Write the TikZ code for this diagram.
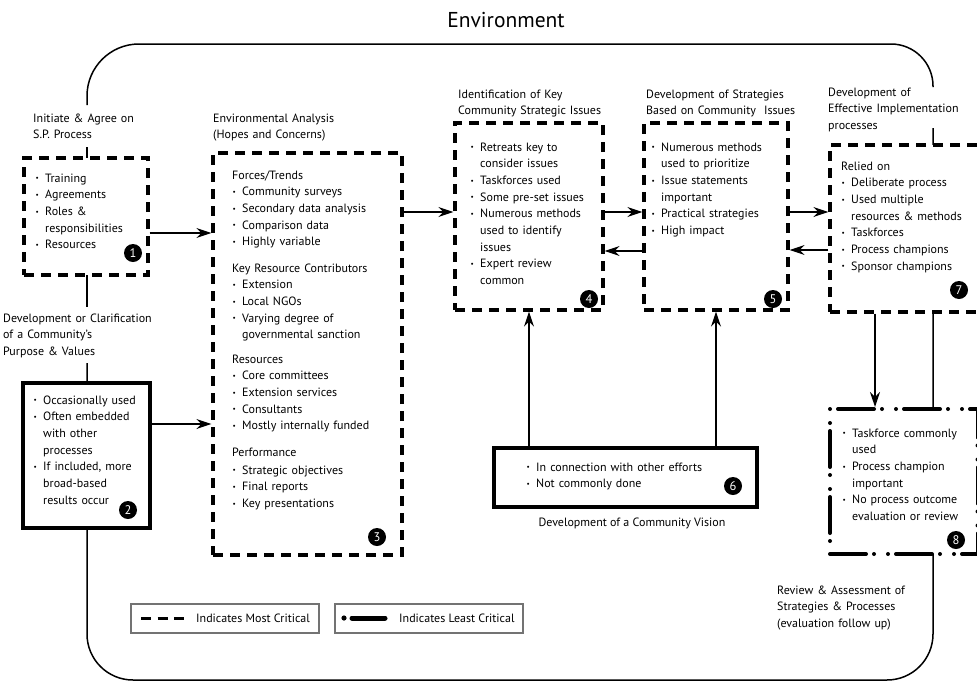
\documentclass[tikz,border=0pt]{standalone}
\usepackage{fontspec}
\usepackage{graphicx}
\setmainfont{PT Sans}
\usetikzlibrary{arrows.meta}
\newcommand{\fs}{\fontsize{12}{16.7}\selectfont}
\newcommand{\bu}{\makebox[10pt][l]{\hspace{0.3pt}\raisebox{1.3pt}{\scalebox{0.6}{•}}}}
\newcommand{\itm}[1]{\noindent\hangindent=10pt\hangafter=1\bu#1\par}
\newcommand{\hd}[1]{\noindent#1\par}
\tikzset{
  x=1pt, y=-1pt,
  txt/.style={anchor=base west, inner sep=0pt, align=left, text width=#1, font=\fs},
  critbox/.style={draw, line width=3.2pt, dash pattern=on 10pt off 7pt, fill=white, inner sep=0pt},
  solidbox/.style={draw, line width=3.5pt, fill=white, inner sep=0pt},
  leastbox/.style={draw, line width=4pt, line cap=round, dash pattern=on 36pt off 8pt on 0pt off 14pt on 0pt off 8pt, fill=white, inner sep=0pt},
  badge/.style={circle, fill=black, text=white, inner sep=0pt, minimum size=18pt, font=\fontsize{12.5}{12.5}\selectfont},
  arr/.style={line width=1.5pt, -{Stealth[length=15pt,width=10pt,inset=5pt]}},
  frame/.style={line width=1.5pt},
  legbox/.style={draw=black!55, line width=1.1pt, inner sep=0pt},
}
\begin{document}
\begin{tikzpicture}
\useasboundingbox (0,0) rectangle (977,683);
\clip (0,0) rectangle (977,683);

% environment frame (broken by labels)
\draw[frame] (87,105) [rounded corners=52pt]-- (87,44) [rounded corners=42pt]-- (933,44) -- (933,87);
\draw[frame] (933,128) [rounded corners=46pt]-- (933,680) -- (87,680) -- (87,363);
\draw[frame] (87,147) -- (87,307);

\node[font=\fontsize{21.5}{24}\selectfont] (title) at (506,20) {Environment};

% boxes
\node[critbox, minimum width=124pt, minimum height=117pt] (b1) at (86,216.5) {};
\node[solidbox, minimum width=127pt, minimum height=145pt] (b2) at (86.5,455.5) {};
\node[critbox, minimum width=189pt, minimum height=402pt] (b3) at (307.5,354) {};
\node[critbox, minimum width=148pt, minimum height=187pt] (b4) at (529,216.5) {};
\node[critbox, minimum width=144pt, minimum height=187pt] (b5) at (716,216.5) {};
\node[solidbox, minimum width=263pt, minimum height=59pt] (b6) at (625.5,477.5) {};
\node[critbox, minimum width=160pt, minimum height=167pt] (b7) at (910,228.5) {};
\node[leastbox, minimum width=147.5pt, minimum height=145pt] (b8) at (903.75,481.5) {};

% labels
\node[txt=140pt] (l1) at (33,122) {Initiate \& Agree on\\S.P. Process};
\node[txt=180pt] (l2) at (3,322) {Development or Clarification\\of a Community's\\Purpose \& Values};
\node[txt=180pt] (l3) at (213,122) {Environmental Analysis\\(Hopes and Concerns)};
\node[txt=180pt] (l4) at (458,98) {Identification of Key\\Community Strategic Issues};
\node[txt=180pt] (l5) at (646,98) {Development of Strategies\\Based on Community\ \ Issues};
\node[txt=150pt] (l7) at (828,96) {Development of\\Effective Implementation\\processes};
\node[anchor=base, inner sep=0pt, font=\fs] (l6) at (632,526) {Development of a Community Vision};
\node[txt=180pt] (l8) at (777,594) {Review \& Assessment of\\Strategies \& Processes\\(evaluation follow up)};

% box texts
\node[txt=110pt] (t1) at (35,182) {\itm{Training}\itm{Agreements}\itm{Roles \&\newline responsibilities}\itm{Resources}};
\node[txt=115pt] (t2) at (33,404) {\itm{Occasionally used}\itm{Often embedded\newline with other\newline processes}\itm{If included, more\newline broad-based\newline results occur}};
\node[txt=165pt] (t3a) at (232,179) {\hd{Forces/Trends}\itm{Community surveys}\itm{Secondary data analysis}\itm{Comparison data}\itm{Highly variable}};
\node[txt=165pt] (t3b) at (232,272) {\hd{Key Resource Contributors}\itm{Extension}\itm{Local NGOs}\itm{Varying degree of\newline governmental sanction}};
\node[txt=165pt] (t3c) at (232,363) {\hd{Resources}\itm{Core committees}\itm{Extension services}\itm{Consultants}\itm{Mostly internally funded}};
\node[txt=165pt] (t3d) at (232,456) {\hd{Performance}\vspace{1.5pt}\itm{Strategic objectives}\itm{Final reports}\itm{Key presentations}};
\node[txt=125pt] (t4) at (470,151) {\itm{Retreats key to\newline consider issues}\itm{Taskforces used}\itm{Some pre-set issues}\itm{Numerous methods\newline used to identify\newline issues}\itm{Expert review\newline common}};
\node[txt=125pt] (t5) at (651,151) {\itm{Numerous methods\newline used to prioritize}\itm{Issue statements\newline important}\itm{Practical strategies}\itm{High impact}};
\node[txt=210pt] (t6) at (526,471) {\itm{In connection with other efforts}\itm{Not commonly done}};
\node[txt=130pt] (t7) at (841,170) {\hd{Relied on}\itm{Deliberate process}\itm{Used multiple\newline resources \& methods}\itm{Taskforces}\itm{Process champions}\itm{Sponsor champions}};
\node[txt=130pt] (t8) at (842,437) {\itm{Taskforce commonly\newline used}\itm{Process champion\newline important}\itm{No process outcome\newline evaluation or review}};

% badges
\node[badge] (n1) at (133,253) {1};
\node[badge] (n2) at (128,510) {2};
\node[badge] (n3) at (377,537) {3};
\node[badge] (n4) at (589,299) {4};
\node[badge] (n5) at (773,299) {5};
\node[badge] (n6) at (733,486) {6};
\node[badge] (n7) at (959,290) {7};
\node[badge] (n8) at (956,540) {8};

% connectors
\draw[arr] (b1.east |- 0,233) -- (b3.west |- 0,233);
\draw[arr] (b2.east |- 0,424) -- (b3.west |- 0,424);
\draw[arr] (b3.east |- 0,212) -- (b4.west |- 0,212);
\draw[arr] (b4.east |- 0,212) -- (b5.west |- 0,212);
\draw[arr] (b5.west |- 0,251) -- (b4.east |- 0,251);
\draw[arr] (b5.east |- 0,212) -- (b7.west |- 0,212);
\draw[arr] (b7.west |- 0,250) -- (b5.east |- 0,250);
\draw[arr] (b6.north -| b4.south) -- (b4.south);
\draw[arr] (b6.north -| b5.south) -- (b5.south);
\draw[arr] (b7.south -| 875,0) -- (b8.north -| 875,0);

% legend
\node[legbox, minimum width=188pt, minimum height=29pt] (lg1) at (225,618.5) {};
\node[legbox, minimum width=188pt, minimum height=29pt] (lg2) at (429,618.5) {};
\draw[line width=3pt, dash pattern=on 10pt off 6.5pt] (141,618) -- (184,618);
\node[anchor=base west, inner sep=0pt, font=\fs] (lt1) at (196,622) {Indicates Most Critical};
\fill (344,618) circle (2.6pt);
\draw[line width=5pt, line cap=round] (352,618) -- (385,618);
\node[anchor=base west, inner sep=0pt, font=\fs] (lt2) at (399,622) {Indicates Least Critical};
\end{tikzpicture}
\end{document}
